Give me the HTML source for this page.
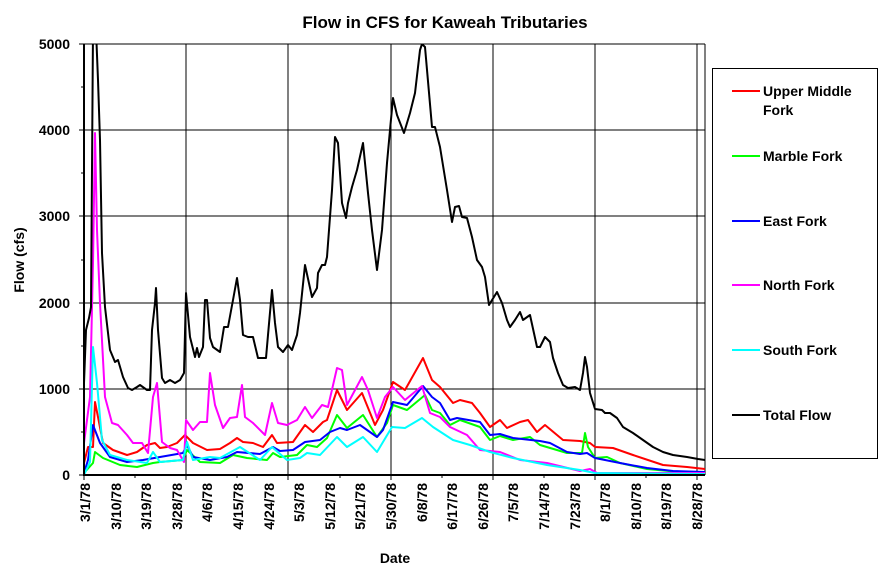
<!DOCTYPE html>
<html><head><meta charset="utf-8"><style>
body{margin:0;background:#fff;}
svg{display:block;font-family:"Liberation Sans",Arial,sans-serif;}
</style></head><body>
<svg width="890" height="574" viewBox="0 0 890 574" xmlns="http://www.w3.org/2000/svg">
<rect width="890" height="574" fill="#fff"/>
<text x="445" y="28" text-anchor="middle" font-size="17" font-weight="bold">Flow in CFS for Kaweah Tributaries</text>
<defs><clipPath id="c"><rect x="84" y="44" width="621" height="431"/></clipPath></defs>
<g stroke="#000" stroke-width="1">
<line x1="84" y1="44" x2="705" y2="44"/><line x1="84" y1="130" x2="705" y2="130"/><line x1="84" y1="216" x2="705" y2="216"/><line x1="84" y1="303" x2="705" y2="303"/><line x1="84" y1="389" x2="705" y2="389"/>
<line x1="186" y1="44" x2="186" y2="475"/><line x1="288" y1="44" x2="288" y2="475"/><line x1="391" y1="44" x2="391" y2="475"/><line x1="493" y1="44" x2="493" y2="475"/><line x1="595" y1="44" x2="595" y2="475"/><line x1="697" y1="44" x2="697" y2="475"/>
<line x1="705" y1="44" x2="705" y2="475"/>
<line x1="79" y1="44" x2="84" y2="44"/><line x1="79" y1="130" x2="84" y2="130"/><line x1="79" y1="216" x2="84" y2="216"/><line x1="79" y1="303" x2="84" y2="303"/><line x1="79" y1="389" x2="84" y2="389"/><line x1="79" y1="475" x2="84" y2="475"/>
<line x1="81" y1="87" x2="84" y2="87"/><line x1="81" y1="173" x2="84" y2="173"/><line x1="81" y1="260" x2="84" y2="260"/><line x1="81" y1="346" x2="84" y2="346"/><line x1="81" y1="432" x2="84" y2="432"/>
<line x1="84" y1="475" x2="84" y2="480"/><line x1="135" y1="475" x2="135" y2="478"/><line x1="186" y1="475" x2="186" y2="480"/><line x1="237" y1="475" x2="237" y2="478"/><line x1="288" y1="475" x2="288" y2="480"/><line x1="340" y1="475" x2="340" y2="478"/><line x1="391" y1="475" x2="391" y2="480"/><line x1="442" y1="475" x2="442" y2="478"/><line x1="493" y1="475" x2="493" y2="480"/><line x1="544" y1="475" x2="544" y2="478"/><line x1="595" y1="475" x2="595" y2="480"/><line x1="646" y1="475" x2="646" y2="478"/><line x1="697" y1="475" x2="697" y2="480"/>
</g>
<g clip-path="url(#c)" fill="none" stroke-width="2" stroke-linejoin="round">
<polyline stroke="#ff0000" points="84,463 88,447 93,447 95,402 98,417 103,443 113,450 127,455 137,452 147,445 155,443 160,448 167,447 177,443 185,435 193,443 207,450 220,449 230,443 237,438 243,442 253,443 263,447 272,435 277,443 293,442 305,425 313,432 323,422 327,420 337,390 347,410 362,393 375,425 383,410 393,382 405,390 423,358 432,380 440,387 453,403 460,400 472,403 480,413 490,427 500,420 507,428 520,422 528,420 537,432 545,425 563,440 580,441 590,443 595,447 613,448 633,455 663,465 687,467 705,469"/>
<polyline stroke="#00ff00" points="84,473 93,463 95,452 103,458 120,465 137,467 153,463 160,462 183,460 187,450 200,462 220,463 233,455 247,458 267,460 273,453 280,457 297,455 307,445 317,447 327,438 337,415 347,428 363,415 377,437 387,423 393,405 407,410 425,395 432,410 440,413 450,425 460,420 480,427 490,440 500,436 513,440 530,437 540,445 567,453 582,453 585,433 588,447 595,458 607,457 620,463 647,469 680,472 705,473"/>
<polyline stroke="#0000ff" points="84,473 88,460 93,425 100,443 110,457 127,462 143,460 160,457 183,453 187,445 193,457 210,460 227,457 237,452 260,454 273,447 280,451 293,450 305,442 320,440 330,432 340,428 347,430 360,425 377,437 383,430 393,402 407,405 413,398 423,386 432,397 440,403 450,420 457,418 480,422 490,435 500,434 513,438 540,441 550,443 567,452 580,454 587,453 595,458 620,463 647,468 673,471 705,472"/>
<polyline stroke="#ff00ff" points="84,443 90,397 93,263 95,133 97,230 100,303 105,397 112,423 118,425 127,435 133,443 142,443 148,453 153,397 157,383 162,442 170,448 177,450 184,462 186,420 193,430 200,422 207,422 210,373 215,405 223,428 230,418 237,417 242,385 245,417 253,423 265,435 272,403 278,423 287,425 297,420 305,407 312,418 322,405 328,407 337,368 342,370 347,405 362,377 368,390 377,418 385,397 393,387 405,400 422,386 430,413 440,417 450,427 467,435 480,450 500,452 520,460 547,463 580,471 590,469 597,473 705,473"/>
<polyline stroke="#00ffff" points="84,475 90,462 93,347 97,383 102,440 110,455 127,460 147,463 153,452 160,462 183,460 187,442 193,460 210,457 220,458 240,447 260,460 272,447 287,460 300,458 307,453 320,455 337,437 347,447 363,437 377,452 392,427 405,428 422,418 433,427 453,440 470,445 490,452 513,458 547,465 580,470 595,473 705,474"/>
<polyline stroke="#000000" points="84,383 86,330 89,318 91,307 93,30 95,30 96,30 98,80 100,140 102,253 105,307 110,350 115,362 118,360 123,377 128,388 132,390 137,387 140,385 147,390 150,390 152,330 155,303 156,288 158,330 162,378 165,383 170,380 175,383 180,380 184,373 186,293 190,337 195,357 197,348 199,357 203,347 205,300 207,300 210,338 213,347 220,352 224,327 228,327 233,300 237,278 240,300 243,335 248,337 253,337 258,358 262,358 266,358 268,335 272,290 275,323 278,347 283,352 288,345 292,350 297,335 300,313 305,265 312,297 317,288 318,273 322,265 325,265 327,257 332,190 335,137 338,143 342,203 346,218 348,203 352,187 357,170 363,143 368,193 372,230 377,270 382,230 387,163 390,130 393,98 397,115 404,133 410,113 415,93 420,50 422,44 425,47 432,127 435,127 440,147 447,190 452,222 455,207 459,206 462,217 467,218 472,237 477,260 482,267 485,277 489,305 497,292 502,303 507,320 510,327 515,320 520,312 523,320 530,315 537,347 540,347 545,337 550,342 553,358 558,373 563,385 568,388 575,387 580,390 583,373 585,357 587,367 590,393 595,409 602,410 605,413 610,413 617,418 623,427 633,433 643,440 653,447 663,452 673,455 687,457 698,459 705,460"/>
</g>
<line x1="84" y1="44" x2="84" y2="476" stroke="#000" stroke-width="2"/>
<line x1="83" y1="475" x2="705" y2="475" stroke="#000" stroke-width="2"/>
<g font-size="14" font-weight="bold" text-anchor="end">
<text x="70" y="49">5000</text><text x="70" y="135">4000</text><text x="70" y="221">3000</text><text x="70" y="308">2000</text><text x="70" y="394">1000</text><text x="70" y="480">0</text>
</g>
<text transform="translate(24,260) rotate(-90)" text-anchor="middle" font-size="14" font-weight="bold">Flow (cfs)</text>
<text x="395" y="563" text-anchor="middle" font-size="14" font-weight="bold">Date</text>
<g font-size="14" font-weight="bold" text-anchor="end">
<text transform="translate(90,483) rotate(-90)">3/1/78</text>
<text transform="translate(121,483) rotate(-90)">3/10/78</text>
<text transform="translate(151,483) rotate(-90)">3/19/78</text>
<text transform="translate(182,483) rotate(-90)">3/28/78</text>
<text transform="translate(212,483) rotate(-90)">4/6/78</text>
<text transform="translate(243,483) rotate(-90)">4/15/78</text>
<text transform="translate(274,483) rotate(-90)">4/24/78</text>
<text transform="translate(304,483) rotate(-90)">5/3/78</text>
<text transform="translate(335,483) rotate(-90)">5/12/78</text>
<text transform="translate(365,483) rotate(-90)">5/21/78</text>
<text transform="translate(396,483) rotate(-90)">5/30/78</text>
<text transform="translate(427,483) rotate(-90)">6/8/78</text>
<text transform="translate(457,483) rotate(-90)">6/17/78</text>
<text transform="translate(488,483) rotate(-90)">6/26/78</text>
<text transform="translate(518,483) rotate(-90)">7/5/78</text>
<text transform="translate(549,483) rotate(-90)">7/14/78</text>
<text transform="translate(580,483) rotate(-90)">7/23/78</text>
<text transform="translate(610,483) rotate(-90)">8/1/78</text>
<text transform="translate(641,483) rotate(-90)">8/10/78</text>
<text transform="translate(671,483) rotate(-90)">8/19/78</text>
<text transform="translate(702,483) rotate(-90)">8/28/78</text>
</g>
<rect x="712.5" y="68.5" width="165" height="390" fill="#fff" stroke="#000" stroke-width="1"/>
<g stroke-width="2">
<line x1="732" y1="91" x2="760" y2="91" stroke="#ff0000"/>
<line x1="732" y1="156" x2="760" y2="156" stroke="#00ff00"/>
<line x1="732" y1="221" x2="760" y2="221" stroke="#0000ff"/>
<line x1="732" y1="285" x2="760" y2="285" stroke="#ff00ff"/>
<line x1="732" y1="350" x2="760" y2="350" stroke="#00ffff"/>
<line x1="732" y1="415" x2="760" y2="415" stroke="#000"/>
</g>
<g font-size="14" font-weight="bold">
<text x="763" y="96">Upper Middle</text><text x="763" y="115">Fork</text>
<text x="763" y="161">Marble Fork</text>
<text x="763" y="226">East Fork</text>
<text x="763" y="290">North Fork</text>
<text x="763" y="355">South Fork</text>
<text x="763" y="420">Total Flow</text>
</g>
</svg>
</body></html>
